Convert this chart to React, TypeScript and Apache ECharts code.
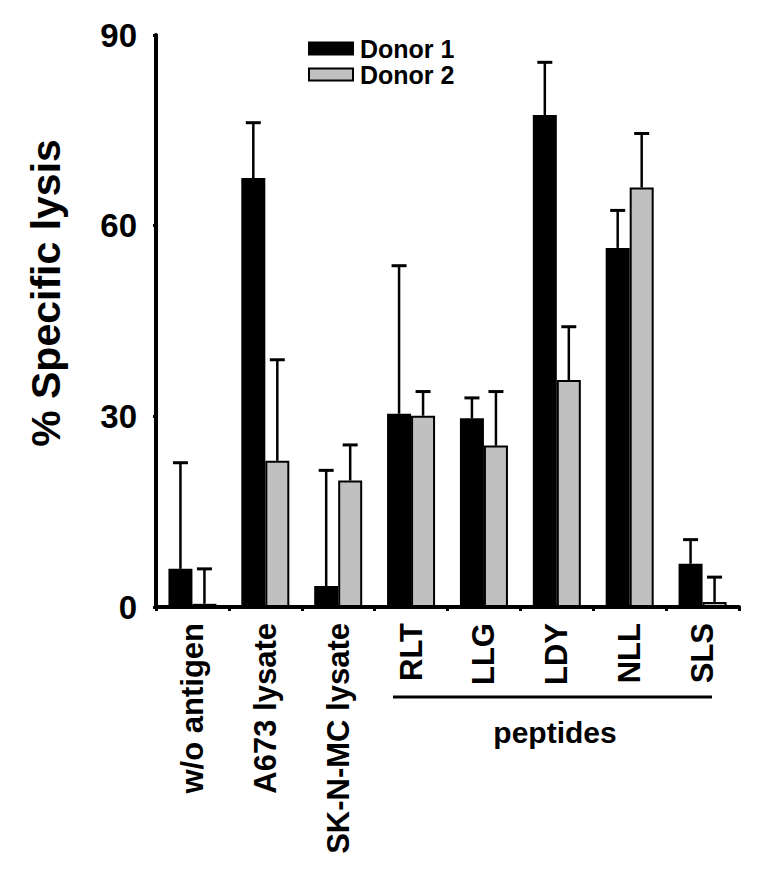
import React, { useEffect, useRef } from "react";
import * as echarts from "echarts";

const categories = ["w/o antigen", "A673 lysate", "SK-N-MC lysate", "RLT", "LLG", "LDY", "NLL", "SLS"];
const donor1 = [6.0, 67.5, 3.3, 30.4, 29.7, 77.4, 56.5, 6.8];
const donor1Err = [16.7, 8.7, 18.2, 23.3, 3.2, 8.3, 5.9, 3.8];
const donor2 = [0.5, 23.0, 19.9, 30.1, 25.4, 35.7, 66.0, 0.8];
const donor2Err = [5.5, 15.9, 5.6, 3.8, 8.5, 8.4, 8.5, 3.9];
const yTicks = [0, 30, 60, 90];

const FONT = '"Liberation Sans", Arial, Helvetica, sans-serif';
const BAR_W = 24;

function errSeries(name: string, vals: number[], errs: number[], offset: number) {
  return {
    type: "custom",
    name,
    z: 5,
    encode: { x: 0, y: 1 },
    data: vals.map((v, i) => [i, v, errs[i]]),
    renderItem: (params: any, api: any) => {
      const cat = api.value(0);
      const v = api.value(1);
      const e = api.value(2);
      const base = api.coord([cat, v]);
      const top = api.coord([cat, v + e]);
      const x = base[0] + offset;
      return {
        type: "group",
        children: [
          {
            type: "line",
            shape: { x1: x, y1: base[1], x2: x, y2: top[1] },
            style: { stroke: "#000", lineWidth: 2.5 },
          },
          {
            type: "line",
            shape: { x1: x - 7.5, y1: top[1], x2: x + 7.5, y2: top[1] },
            style: { stroke: "#000", lineWidth: 3 },
          },
        ],
      };
    },
  };
}

export default function App() {
  const ref = useRef<HTMLDivElement>(null);
  useEffect(() => {
    document.body.style.margin = "0";
    const chart = echarts.init(ref.current!, null, { renderer: "svg" });
    chart.setOption({
      animation: false,
      backgroundColor: "#fff",
      textStyle: { fontFamily: FONT },
      grid: { left: 156, right: 27, top: 35, bottom: 268 },
      legend: {
        data: ["Donor 1", "Donor 2"],
        orient: "vertical",
        left: 308,
        top: 36,
        padding: 0,
        itemWidth: 44,
        itemHeight: 12,
        itemGap: 1,
        icon: "rect",
        textStyle: { fontFamily: FONT, fontWeight: "bold", fontSize: 25, color: "#000", padding: [0, 0, 0, 2] },
      },
      xAxis: {
        type: "category",
        data: categories,
        axisLine: { lineStyle: { color: "#000", width: 4 } },
        axisTick: { show: true, alignWithLabel: false, length: 4, lineStyle: { color: "#000", width: 3 } },
        axisLabel: { rotate: 90, margin: 16, color: "#000", fontFamily: FONT, fontWeight: "bold", fontSize: 31 },
      },
      yAxis: {
        type: "value",
        min: 0,
        max: 90,
        interval: 30,
        splitLine: { show: false },
        axisLine: { show: true, lineStyle: { color: "#000", width: 4 } },
        axisTick: { show: true, length: 3, lineStyle: { color: "#000", width: 3 } },
        axisLabel: {
          margin: 19,
          color: "#000",
          fontFamily: FONT,
          fontWeight: "bold",
          fontSize: 33,
          formatter: (v: number) => (yTicks.includes(v) ? String(v) : ""),
        },
      },
      series: [
        {
          type: "bar",
          name: "Donor 1",
          data: donor1,
          barWidth: BAR_W,
          barGap: "0%",
          itemStyle: { color: "#000", borderColor: "#000", borderWidth: 2 },
        },
        {
          type: "bar",
          name: "Donor 2",
          data: donor2,
          barWidth: BAR_W,
          barGap: "0%",
          itemStyle: { color: "#c0c0c0", borderColor: "#000", borderWidth: 2 },
        },
        errSeries("err1", donor1, donor1Err, -BAR_W / 2),
        errSeries("err2", donor2, donor2Err, BAR_W / 2),
      ],
      graphic: [
        {
          type: "text",
          x: 46,
          y: 293,
          rotation: Math.PI / 2,
          style: {
            text: "% Specific lysis",
            fill: "#000",
            font: `bold 41px ${FONT}`,
            textAlign: "center",
            textVerticalAlign: "middle",
          },
        },
        {
          type: "line",
          shape: { x1: 393, y1: 697, x2: 712, y2: 697 },
          style: { stroke: "#000", lineWidth: 3 },
        },
        {
          type: "text",
          x: 555,
          y: 732,
          style: {
            text: "peptides",
            fill: "#000",
            font: `bold 30px ${FONT}`,
            textAlign: "center",
            textVerticalAlign: "middle",
          },
        },
      ],
    });
    return () => chart.dispose();
  }, []);
  return <div ref={ref} style={{ width: 766, height: 875 }} />;
}
